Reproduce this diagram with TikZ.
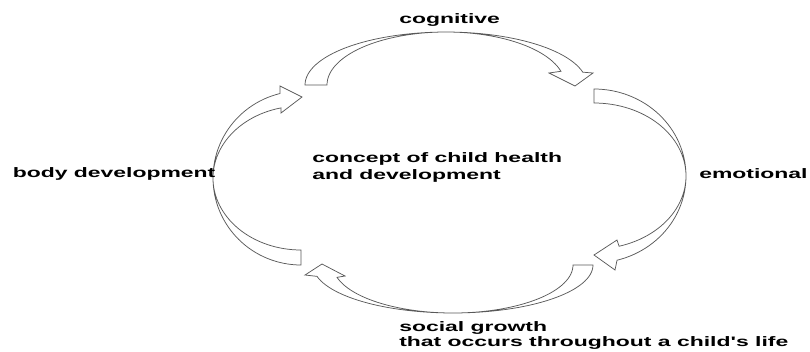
\documentclass[tikz,border=0pt]{standalone}
\usepackage{fontspec}
\setmainfont{Liberation Sans}
% wide lettering: the labels are set in a horizontally stretched bold sans
\newcommand{\wtext}[1]{\scalebox{1.67}[1]{#1}}
\begin{document}
\begin{tikzpicture}[x=0.75pt, y=-0.75pt,
  cyclearrow/.style={draw=black!65, line width=0.55pt, fill=white, line join=miter},
  lbl/.style={anchor=base west, inner sep=0pt, text=black,
    font=\fontsize{10.3}{12.75}\selectfont\bfseries},
  lbltight/.style={lbl, font=\fontsize{10.3}{11.6}\selectfont\bfseries}]
\fill[white] (0,0) rectangle (810,351);
\useasboundingbox (0,0) rectangle (810,351);

% top arrow: sweeps over the top, left to right
\draw[cyclearrow] (327,85)
  -- plot[domain=180:346, samples=60] ({446+141*cos(\x)},{85+53*sin(\x)})
  -- (593,73) -- (575,86) -- (549,73)
  -- plot[domain=345:180, samples=60] ({446+119*cos(\x)},{85+53*sin(\x)})
  -- cycle;

% right arrow: sweeps down the right side
\draw[cyclearrow] (594,103)
  -- plot[domain=-90:75.5, samples=60] ({594+92*cos(\x)},{176+87*sin(\x)})
  -- (615,270) -- (594,255) -- (617,240)
  -- plot[domain=74.2:-90, samples=60] ({594+92*cos(\x)},{176+73*sin(\x)})
  -- cycle;

% bottom arrow: sweeps under the bottom, right to left
\draw[cyclearrow] (573,265)
  -- (593,265)
  -- plot[domain=0:166.3, samples=60] ({453+140*cos(\x)},{265+48*sin(\x)})
  -- (305,275) -- (322,264) -- (345,276)
  -- plot[domain=165.1:0, samples=60] ({453+120*cos(\x)},{265+48*sin(\x)})
  -- cycle;

% left arrow: sweeps up the left side
\draw[cyclearrow] (301,250)
  -- (301,265)
  -- plot[domain=90:256.2, samples=60] ({301+88*cos(\x)},{178+87*sin(\x)})
  -- (280,86) -- (302,97) -- (281,113)
  -- plot[domain=256.9:90, samples=60] ({301+88*cos(\x)},{178+72*sin(\x)})
  -- cycle;

% labels
\node[lbl] (cognitive) at (399,23) {\wtext{cognitive}};
\node[lbl] (body) at (12.5,177) {\wtext{body development}};
\node[lbl] (emotional) at (699,178) {\wtext{emotional}};
\node[lbl] (concept) at (312,162) {\wtext{\begin{tabular}[t]{@{}l@{}}concept of child health\\and development\end{tabular}}};
\node[lbltight] (social) at (399,331.5) {\wtext{\begin{tabular}[t]{@{}l@{}}social growth\\that occurs throughout a child\textquotesingle s life\end{tabular}}};
\end{tikzpicture}
\end{document}
